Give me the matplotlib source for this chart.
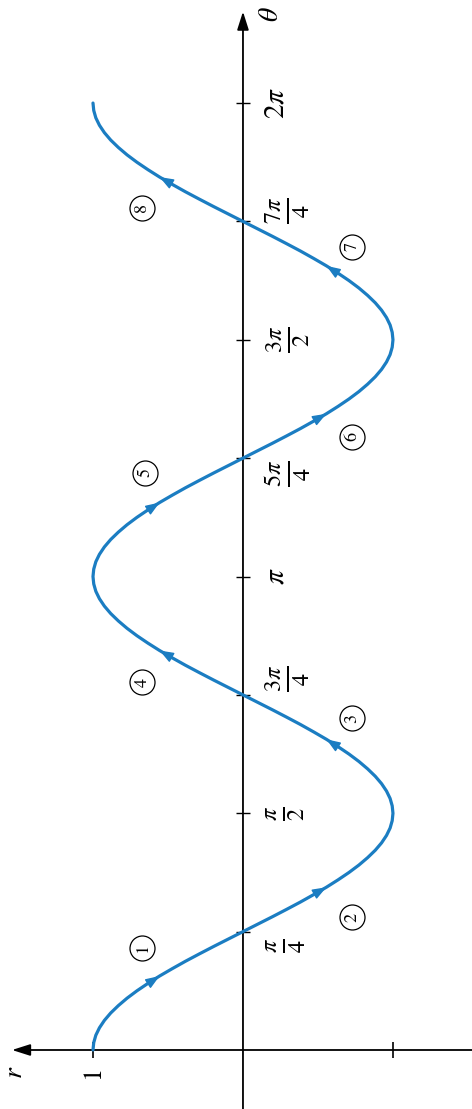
import numpy as np
import matplotlib
matplotlib.use("Agg")
import matplotlib.pyplot as plt

plt.rcParams["mathtext.fontset"] = "stix"
plt.rcParams["font.family"] = ["STIXGeneral", "DejaVu Serif"]

# r = cos(2θ) drawn in Cartesian (θ, r) coordinates, sampled every π/64
theta_step = np.pi / 64
r_values = [
    # 0 .. π/4
    1.000, 0.995, 0.981, 0.957, 0.924, 0.882, 0.831, 0.773,
    0.707, 0.634, 0.556, 0.471, 0.383, 0.290, 0.195, 0.098,
    # π/4 .. π/2
    0.000, -0.098, -0.195, -0.290, -0.383, -0.471, -0.556, -0.634,
    -0.707, -0.773, -0.831, -0.882, -0.924, -0.957, -0.981, -0.995,
    # π/2 .. 3π/4
    -1.000, -0.995, -0.981, -0.957, -0.924, -0.882, -0.831, -0.773,
    -0.707, -0.634, -0.556, -0.471, -0.383, -0.290, -0.195, -0.098,
    # 3π/4 .. π
    0.000, 0.098, 0.195, 0.290, 0.383, 0.471, 0.556, 0.634,
    0.707, 0.773, 0.831, 0.882, 0.924, 0.957, 0.981, 0.995,
    # π .. 5π/4
    1.000, 0.995, 0.981, 0.957, 0.924, 0.882, 0.831, 0.773,
    0.707, 0.634, 0.556, 0.471, 0.383, 0.290, 0.195, 0.098,
    # 5π/4 .. 3π/2
    0.000, -0.098, -0.195, -0.290, -0.383, -0.471, -0.556, -0.634,
    -0.707, -0.773, -0.831, -0.882, -0.924, -0.957, -0.981, -0.995,
    # 3π/2 .. 7π/4
    -1.000, -0.995, -0.981, -0.957, -0.924, -0.882, -0.831, -0.773,
    -0.707, -0.634, -0.556, -0.471, -0.383, -0.290, -0.195, -0.098,
    # 7π/4 .. 2π
    0.000, 0.098, 0.195, 0.290, 0.383, 0.471, 0.556, 0.634,
    0.707, 0.773, 0.831, 0.882, 0.924, 0.957, 0.981, 0.995,
    1.000,
]
theta_values = np.arange(len(r_values)) * theta_step

# direction arrows sit on these samples of the curve
arrow_samples = [10, 22, 42, 54, 74, 86, 106, 118]

# θ-axis ticks and their labels
theta_ticks = [np.pi / 4 * k for k in range(1, 9)]
theta_tick_labels = [
    r"$\frac{\pi}{4}$", r"$\frac{\pi}{2}$", r"$\frac{3\pi}{4}$", r"$\pi$",
    r"$\frac{5\pi}{4}$", r"$\frac{3\pi}{2}$", r"$\frac{7\pi}{4}$", r"$2\pi$",
]
r_ticks = [1, -1]

# numbered segments of the curve
segment_numbers = ["1", "2", "3", "4", "5", "6", "7", "8"]
segment_r = [0.67, -0.73, -0.73, 0.67, 0.65, -0.73, -0.73, 0.67]
segment_theta = [0.68, 0.88, 2.20, 2.44, 3.83, 4.07, 5.33, 5.59]

blue = "#1b7dc2"

fig = plt.figure(figsize=(4.72, 11.09), dpi=100)
ax = fig.add_axes([0, 0, 1, 1])
ax.set_xlim(1.62, -1.527)   # r grows to the left
ax.set_ylim(-0.3915, 6.967)
ax.axis("off")

# axes with arrowheads
axis_arrow = dict(arrowstyle="-|>,head_length=1.1,head_width=0.35",
                  color="black", lw=1.3, shrinkA=0, shrinkB=0)
ax.annotate("", xy=(0, 6.89), xytext=(0, -0.3915), arrowprops=axis_arrow)
ax.annotate("", xy=(1.54, 0), xytext=(-1.527, 0), arrowprops=axis_arrow)

# tick marks
ax.plot([0] * len(theta_ticks), theta_ticks, ls="none", marker="_",
        ms=10, mew=1.0, color="black")
ax.plot(r_ticks, [0] * len(r_ticks), ls="none", marker="|",
        ms=11, mew=1.2, color="black")

# the curve
ax.plot(r_values, theta_values, color=blue, lw=2.3,
        solid_capstyle="round", solid_joinstyle="round", zorder=3)

# direction arrows along the curve
for i in arrow_samples:
    ax.annotate("", xy=(r_values[i], theta_values[i]),
                xytext=(r_values[i - 2], theta_values[i - 2]),
                arrowprops=dict(arrowstyle="-|>,head_length=0.85,head_width=0.32",
                                color=blue, lw=1.0, shrinkA=0, shrinkB=0),
                zorder=4)

# tick labels on the θ axis, nudged away from where the curve crosses
label_nudge = [-0.09, 0, 0.11, 0, -0.1, 0, 0.07, 0]
for t, lab, d in zip(theta_ticks, theta_tick_labels, label_nudge):
    size = 21 if "frac" not in lab else 25
    ax.text(-0.14, t + d, lab, rotation=90, ha="left", va="center", fontsize=size)

ax.text(1.0, -0.146, "1", rotation=90, ha="center", va="center", fontsize=19)
ax.text(1.52, -0.146, r"$r$", rotation=90, ha="center", va="center", fontsize=20)
ax.text(-0.193, 6.87, r"$\theta$", rotation=90, ha="center", va="center", fontsize=20)

# circled segment numbers
ax.plot(segment_r, segment_theta, ls="none", marker="o", ms=18,
        mfc="white", mec="black", mew=0.9, zorder=5)
for num, rr, tt in zip(segment_numbers, segment_r, segment_theta):
    ax.text(rr, tt, num, rotation=90, ha="center", va="center",
            fontsize=13, zorder=6)

fig.savefig("out.png", dpi=100)
